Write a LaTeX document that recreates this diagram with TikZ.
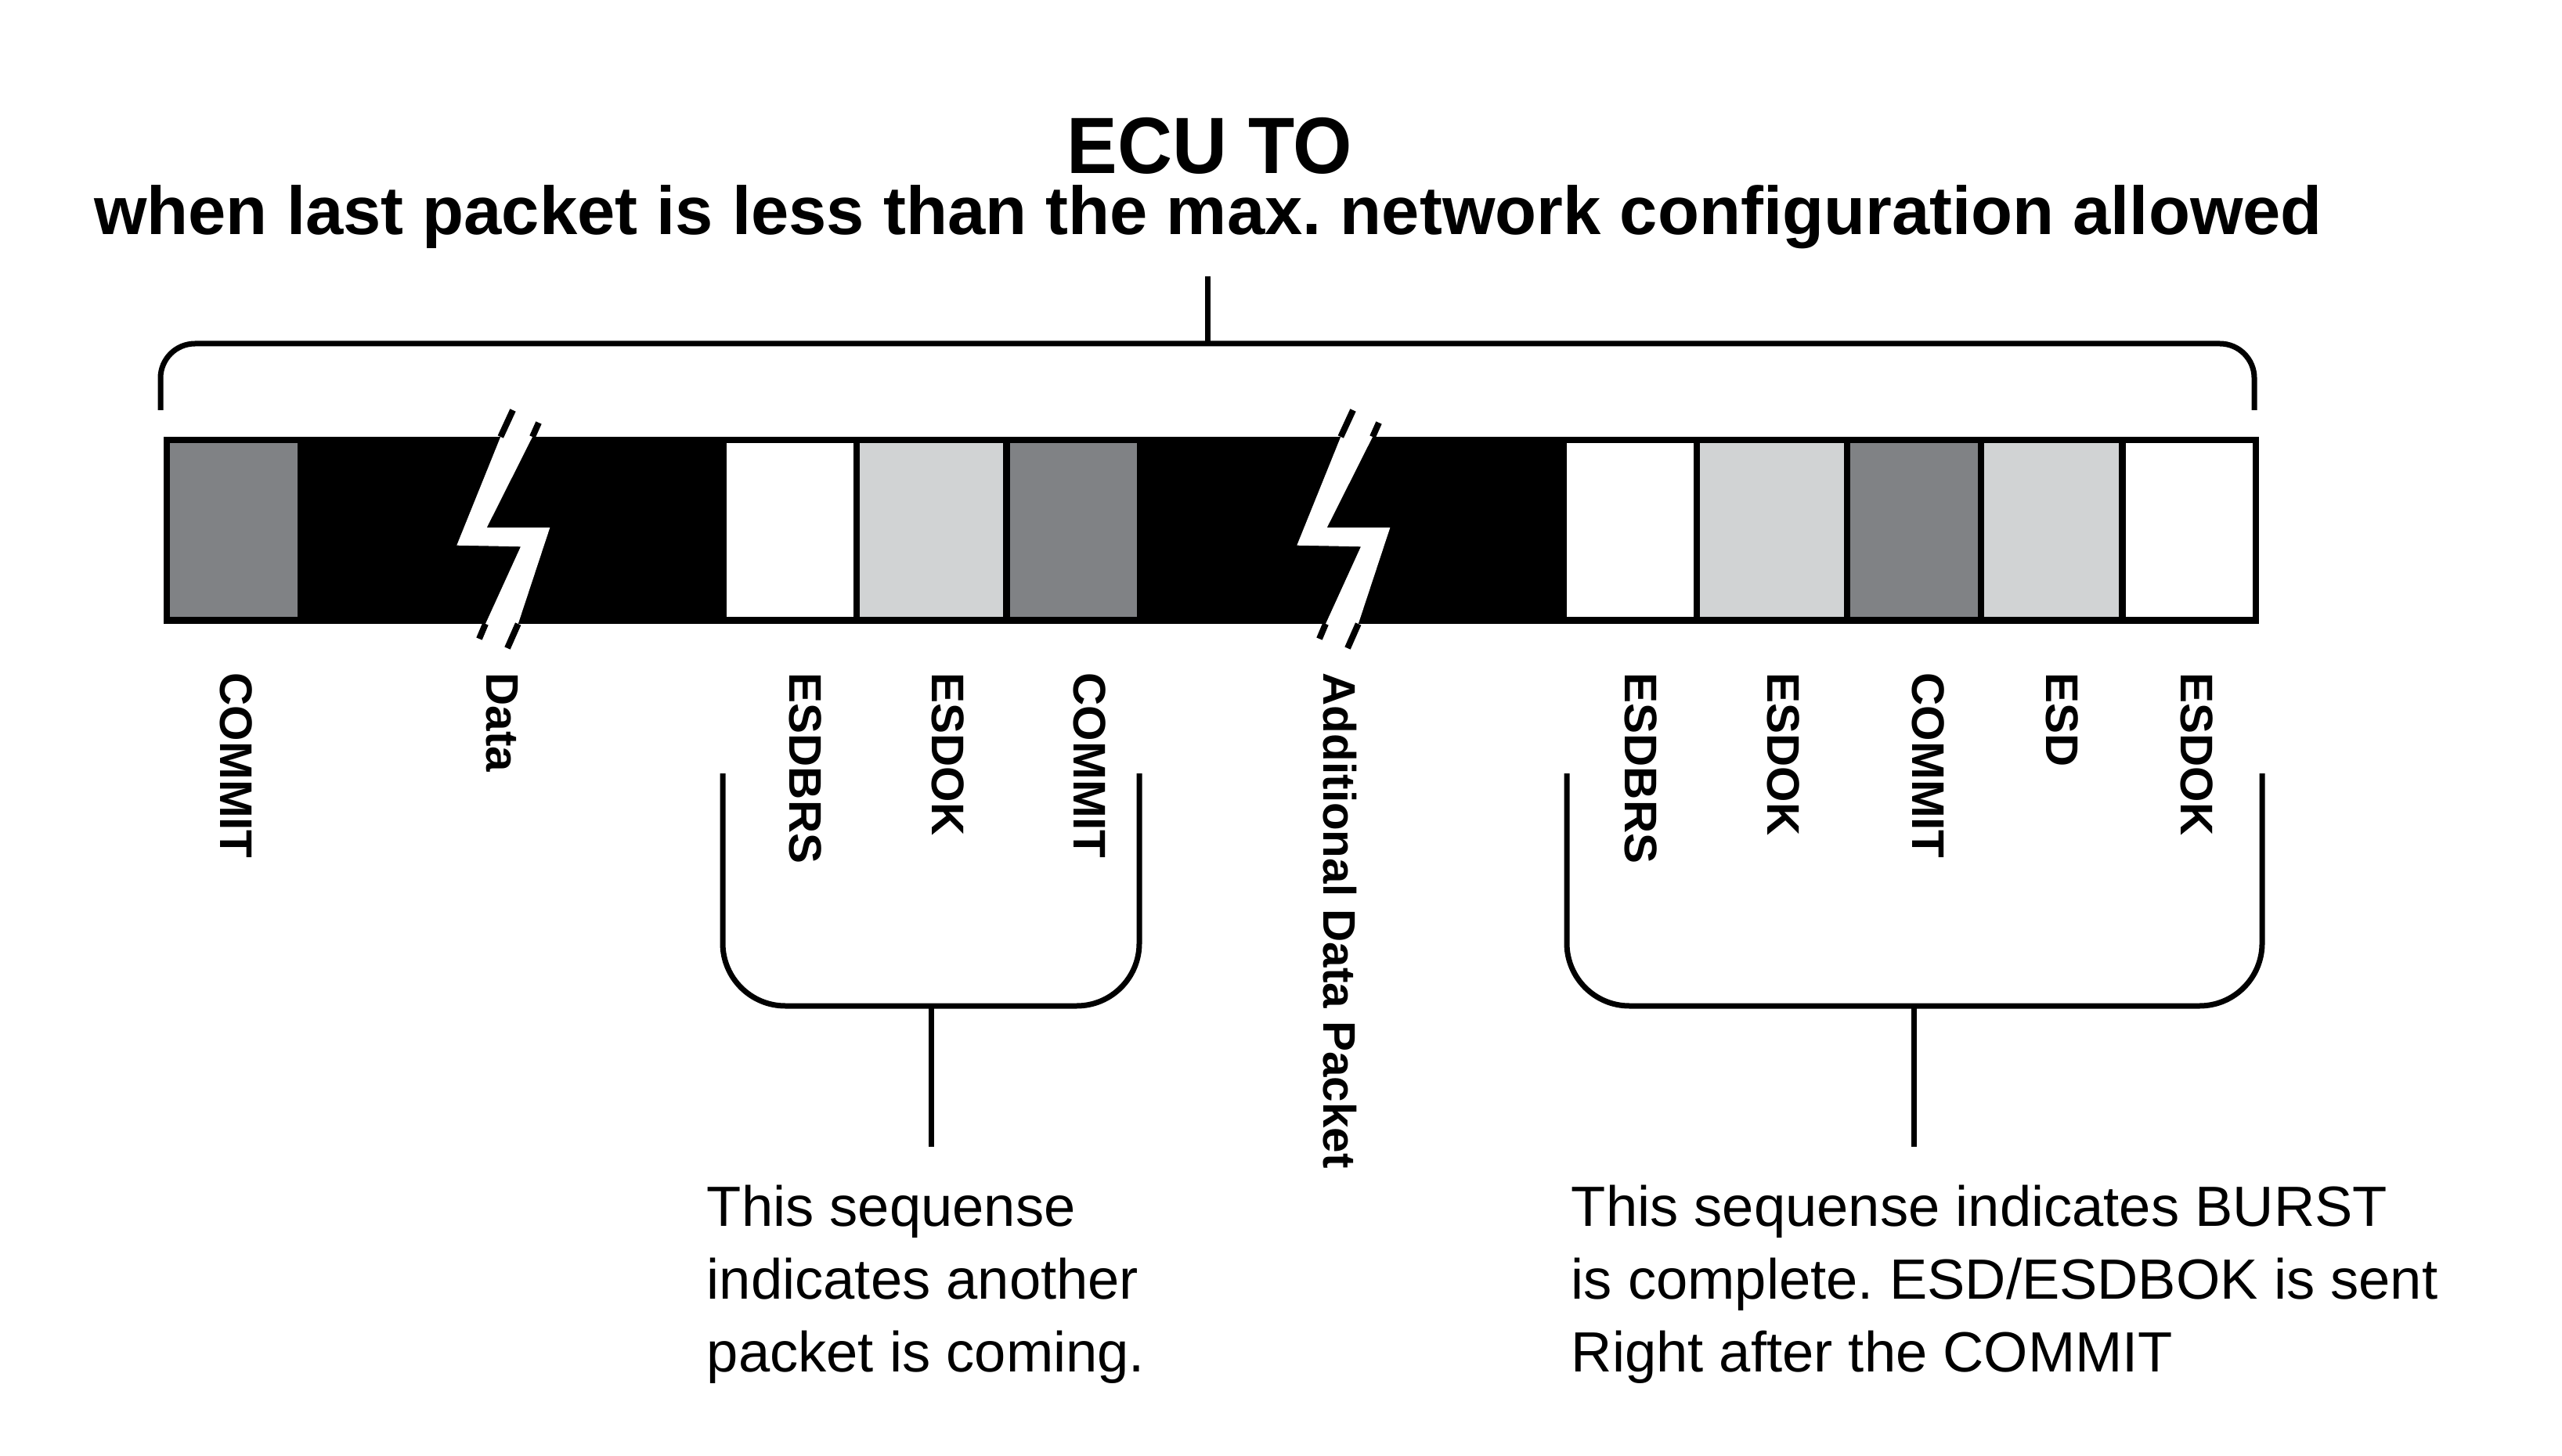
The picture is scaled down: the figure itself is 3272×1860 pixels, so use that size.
\documentclass[tikz,border=0pt]{standalone}
\usepackage{fontspec}
\setmainfont{Liberation Sans}
\definecolor{cellDark}{RGB}{128,130,133}
\definecolor{cellLight}{RGB}{209,211,212}
\frenchspacing
\begin{document}
\begin{tikzpicture}[x=0.25pt,y=-0.25pt,
  cell/.style={draw=none, inner sep=0pt, outer sep=0pt, minimum height=222*0.25pt},
  lbl/.style={rotate=-90, anchor=west, inner sep=0pt, font=\bfseries\fontsize{14.6}{14.6}\selectfont},
  brk/.style={line width=1.75pt, line join=round},
  note/.style={anchor=base west, inner sep=0pt, font=\fontsize{18.1}{18.1}\selectfont},
  cutedge/.style={line width=2pt, line cap=butt}
]
\useasboundingbox[fill=white] (0,0) rectangle (3272,1860);

% titles
\node[anchor=base, inner sep=0pt, font=\bfseries\fontsize{25.5}{25.5}\selectfont] (title) at (1545,222) {\scalebox{0.95}[1]{ECU TO}};
\node[anchor=base, inner sep=0pt, font=\bfseries\fontsize{21.7}{21.7}\selectfont] (subtitle) at (1543,300) {when last packet is less than the max. network configuration allowed};

% top bracket
\coordinate (tbL) at (205,524);
\coordinate (tbR) at (2879,524);
\coordinate (tbS) at (1542,353);
\draw[brk, rounded corners=11pt] (tbL) -- ++(0,-85) -| (tbR);
\draw[brk] (tbS) -- ++(0,86);

% bar
\fill[black] (209,558) rectangle (2885,797);
\node[cell, fill=cellDark,  minimum width=163*0.25pt] (c1) at (298.5,677) {};
\node[cell, fill=white,     minimum width=162*0.25pt] (c2) at (1009,677) {};
\node[cell, fill=cellLight, minimum width=183*0.25pt] (c3) at (1189.5,677) {};
\node[cell, fill=cellDark,  minimum width=162*0.25pt] (c4) at (1371,677) {};
\node[cell, fill=white,     minimum width=162*0.25pt] (c5) at (2082,677) {};
\node[cell, fill=cellLight, minimum width=184*0.25pt] (c6) at (2263,677) {};
\node[cell, fill=cellDark,  minimum width=163*0.25pt] (c7) at (2444.5,677) {};
\node[cell, fill=cellLight, minimum width=172*0.25pt] (c8) at (2620,677) {};
\node[cell, fill=white,     minimum width=162*0.25pt] (c9) at (2796,677) {};

% break marks
\foreach \dx in {0,1073}{
  \begin{scope}[shift={(\dx,0)}]
    \fill[white] (639.3,558) -- (583.3,696.7) -- (665,698.3) -- (620,797)
      -- (661.7,797) -- (702.3,674) -- (621.7,674) -- (680,558) -- cycle;
    \draw[cutedge] (639.3,558) -- (655,524);
    \draw[cutedge] (680,558) -- (688,540);
    \draw[cutedge] (620,797) -- (612,816);
    \draw[cutedge] (661.7,797) -- (648,828);
  \end{scope}
}

% labels
\node[lbl] (l1)  at (302,859)  {COMMIT};
\node[lbl] (l2)  at (641,859)  {Data};
\node[lbl] (l3)  at (1029,859) {ESDBRS};
\node[lbl] (l4)  at (1211,859) {ESDOK};
\node[lbl] (l5)  at (1392,859) {COMMIT};
\node[lbl] (l6)  at (1711,859) {Additional Data Packet};
\node[lbl] (l7)  at (2096,859) {ESDBRS};
\node[lbl] (l8)  at (2278,859) {ESDOK};
\node[lbl] (l9)  at (2463,859) {COMMIT};
\node[lbl] (l10) at (2634,859) {ESD};
\node[lbl] (l11) at (2806,859) {ESDOK};

% bottom brackets
\coordinate (blL) at (923,988);
\coordinate (blR) at (1455,988);
\coordinate (blS) at (1189,1285);
\coordinate (blE) at (1189,1465);
\draw[brk, rounded corners=20pt] (blL) |- (blS) -| (blR);
\draw[brk] (blS) -- (blE);

\coordinate (brL) at (2001,988);
\coordinate (brR) at (2889,988);
\coordinate (brS) at (2444,1285);
\coordinate (brE) at (2444,1465);
\draw[brk, rounded corners=20pt] (brL) |- (brS) -| (brR);
\draw[brk] (brS) -- (brE);

% notes
\node[note] (na1) at (902,1566) {This sequense};
\node[note] (na2) at (902,1659) {indicates another};
\node[note] (na3) at (902,1752) {packet is coming.};

\node[note] (nb1) at (2006,1566) {This sequense indicates BURST};
\node[note] (nb2) at (2006,1659) {is complete. ESD/ESDBOK is sent};
\node[note] (nb3) at (2006,1752) {Right after the COMMIT};
\end{tikzpicture}
\end{document}
